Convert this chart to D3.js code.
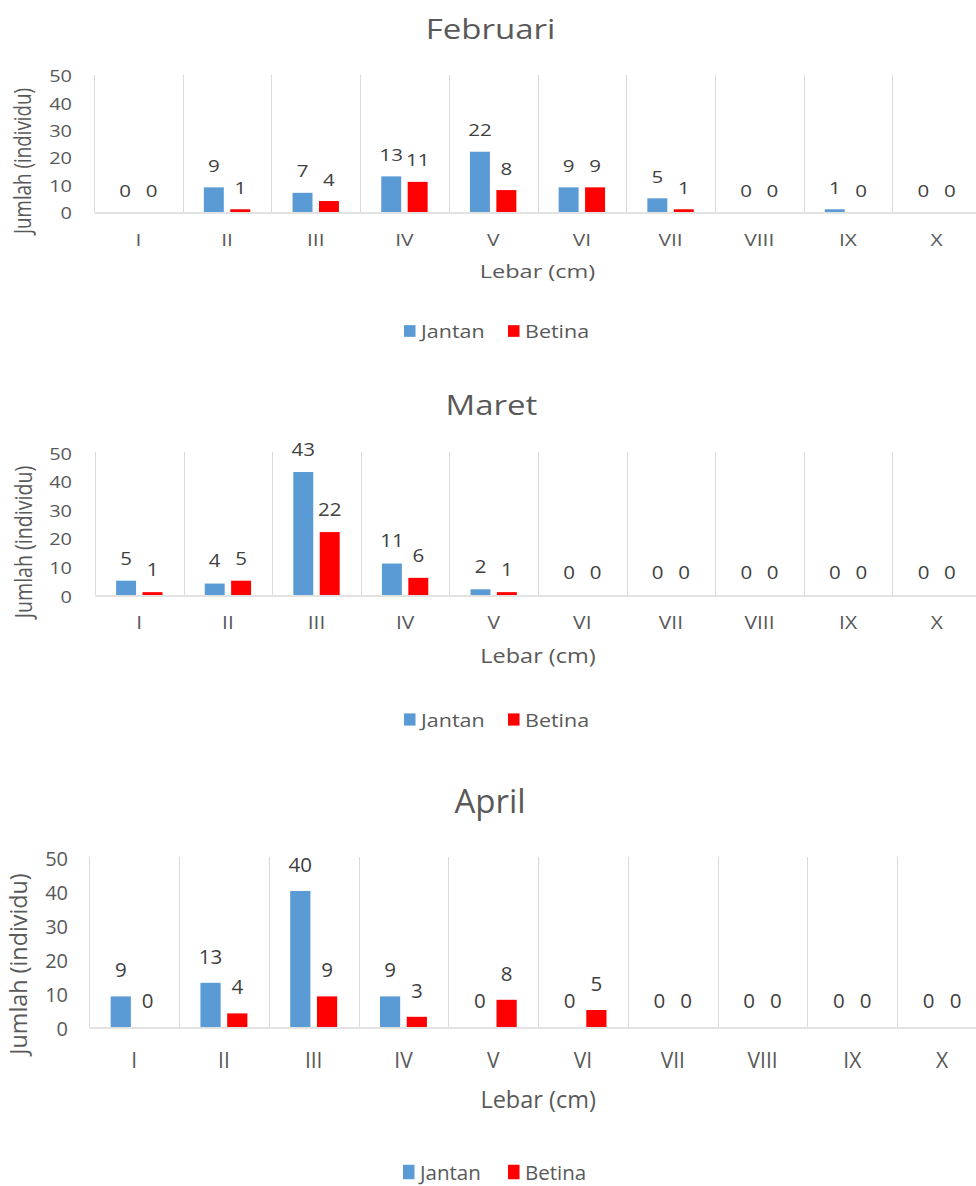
<!DOCTYPE html>
<html>
<head>
<meta charset="utf-8">
<script src="https://cdn.jsdelivr.net/npm/d3@7"></script>
<style>
  html, body { margin: 0; padding: 0; background: #ffffff; }
  svg { display: block; }
</style>
</head>
<body>
<script>
// ---------- DATA ----------
const months = ["Februari", "Maret", "April"];
const categories = ["I", "II", "III", "IV", "V", "VI", "VII", "VIII", "IX", "X"];
const series = ["Jantan", "Betina"];
const seriesColors = ["#5B9BD5", "#FF0000"];
const yTicks = [0, 10, 20, 30, 40, 50];
const yTitle = "Jumlah (individu)";
const xTitle = "Lebar (cm)";

const febJantan = [0, 9, 7, 13, 22, 9, 5, 0, 1, 0];
const febBetina = [0, 1, 4, 11, 8, 9, 1, 0, 0, 0];
const marJantan = [5, 4, 43, 11, 2, 0, 0, 0, 0, 0];
const marBetina = [1, 5, 22, 6, 1, 0, 0, 0, 0, 0];
const aprJantan = [9, 13, 40, 9, 0, 0, 0, 0, 0, 0];
const aprBetina = [0, 4, 9, 3, 8, 5, 0, 0, 0, 0];

const monthValues = [
  [febJantan, febBetina],
  [marJantan, marBetina],
  [aprJantan, aprBetina]
];

// ---------- LAYOUT (screen positions only) ----------
const layouts = [
  { left: 94, right: 981, top: 75, bottom: 212, titleX: 490.5, titleBase: 39,
    yTickRight: 72, xTickBase: 245, xTitleBase: 278, yTitleX: 30.5, yTitleY: 161,
    legendY: 331, legendX: [404, 508], legendFs: 21.5 },
  { left: 95, right: 981, top: 452, bottom: 595, titleX: 491.5, titleBase: 415,
    yTickRight: 72, xTickBase: 628, xTitleBase: 663, yTitleX: 32, yTitleY: 542,
    legendY: 719.5, legendX: [404, 508], legendFs: 21.5 },
  { left: 89.25, right: 987, top: 857, bottom: 1027, titleX: 490, titleBase: 813,
    yTickRight: 68, xTickBase: 1067, xTitleBase: 1108, yTitleX: 27, yTitleY: 964,
    legendY: 1172, legendX: [403, 508], legendFs: 20.5 }
];

const W = 976, H = 1186;
const textColor = "#595959";
const labelColor = "#404040";
const gridColor = "#D9D9D9";

const svg = d3.select("body").append("svg")
  .attr("width", W).attr("height", H)
  .style("font-family", "'Open Sans', 'Noto Sans', sans-serif");

function addText(parent, x, y, s, fs, sx, anchor, color, rotate) {
  return parent.append("text")
    .attr("transform", `translate(${x},${y}) scale(${sx},1)` + (rotate ? " rotate(-90)" : ""))
    .attr("text-anchor", anchor)
    .style("font-size", fs + "px")
    .attr("fill", color)
    .text(s);
}

months.forEach((month, i) => {
  const L = layouts[i];
  const vals = monthValues[i];
  const v = (L.bottom - L.top) / 170;   // vertical compression of this chart
  const sx = 1 / v;                      // horizontal text stretch
  const g = svg.append("g");

  const x = d3.scaleBand().domain(categories).range([L.left, L.right]).padding(0);
  const xs = d3.scaleBand().domain(series).range([0, x.bandwidth()])
    .paddingInner(0.245).paddingOuter(0.8);
  const y = d3.scaleLinear().domain([0, 50]).range([L.bottom, L.top]);

  // vertical gridlines at category boundaries
  const bounds = categories.map(c => x(c)).concat([L.right]);
  g.append("g").selectAll("line").data(bounds).join("line")
    .attr("x1", d => Math.round(d) + 0.5).attr("x2", d => Math.round(d) + 0.5)
    .attr("y1", L.top).attr("y2", L.bottom)
    .attr("stroke", gridColor).attr("stroke-width", 1);

  // x axis
  const xAxis = g.append("g")
    .attr("transform", `translate(0,${Math.round(L.bottom) + 0.5})`)
    .call(d3.axisBottom(x).tickSize(0));
  xAxis.select(".domain").attr("stroke", gridColor).attr("stroke-width", 1.3);
  const xfs = 21 * v;
  xAxis.selectAll(".tick text")
    .attr("y", null).attr("dy", null).attr("x", null)
    .attr("transform", `translate(0,${L.xTickBase - L.bottom}) scale(${sx},1)`)
    .attr("fill", textColor)
    .style("font-size", xfs + "px")
    .style("font-family", "'Open Sans', 'Noto Sans', sans-serif");

  // y axis
  const yAxis = g.append("g")
    .attr("transform", `translate(${L.yTickRight},0)`)
    .call(d3.axisLeft(y).tickValues(yTicks).tickSize(0));
  yAxis.select(".domain").remove();
  const yfs = 20 * v;
  yAxis.selectAll(".tick text")
    .attr("x", null).attr("dy", null)
    .attr("transform", `translate(0,${0.42 * yfs}) scale(${sx},1)`)
    .attr("text-anchor", "end")
    .attr("fill", textColor)
    .style("font-size", yfs + "px")
    .style("font-family", "'Open Sans', 'Noto Sans', sans-serif");

  // bars + data labels
  series.forEach((s, si) => {
    const data = categories.map((c, ci) => ({ c, val: vals[si][ci] }));
    g.append("g").selectAll("rect").data(data).join("rect")
      .attr("x", d => x(d.c) + xs(s))
      .attr("y", d => y(d.val))
      .attr("width", xs.bandwidth())
      .attr("height", d => y(0) - y(d.val))
      .attr("fill", seriesColors[si]);
    const lfs = 20.5 * v;
    const lg = g.append("g");
    data.forEach(d => {
      addText(lg, x(d.c) + xs(s) + xs.bandwidth() / 2, y(d.val) - 19.2 * v,
        String(d.val), lfs, sx, "middle", labelColor, false);
    });
  });

  // chart title
  addText(g, L.titleX, L.titleBase, month, 33 * v, sx, "middle", textColor, false);
  // x axis title
  addText(g, (L.left + L.right) / 2, L.xTitleBase, xTitle, 23.5 * v, sx, "middle", textColor, false);
  // y axis title
  addText(g, L.yTitleX, L.yTitleY, yTitle, 23.3 * v, sx, "middle", textColor, true);

  // legend
  const lgfs = L.legendFs * v;
  const sqH = 14.5 * v, sqW = 11.5;
  series.forEach((s, si) => {
    const lx = L.legendX[si];
    g.append("rect")
      .attr("x", lx).attr("y", L.legendY - sqH / 2)
      .attr("width", sqW).attr("height", sqH)
      .attr("fill", seriesColors[si]);
    addText(g, lx + 17, L.legendY + 0.4 * lgfs, s, lgfs, sx, "start", textColor, false);
  });
});
</script>
</body>
</html>
